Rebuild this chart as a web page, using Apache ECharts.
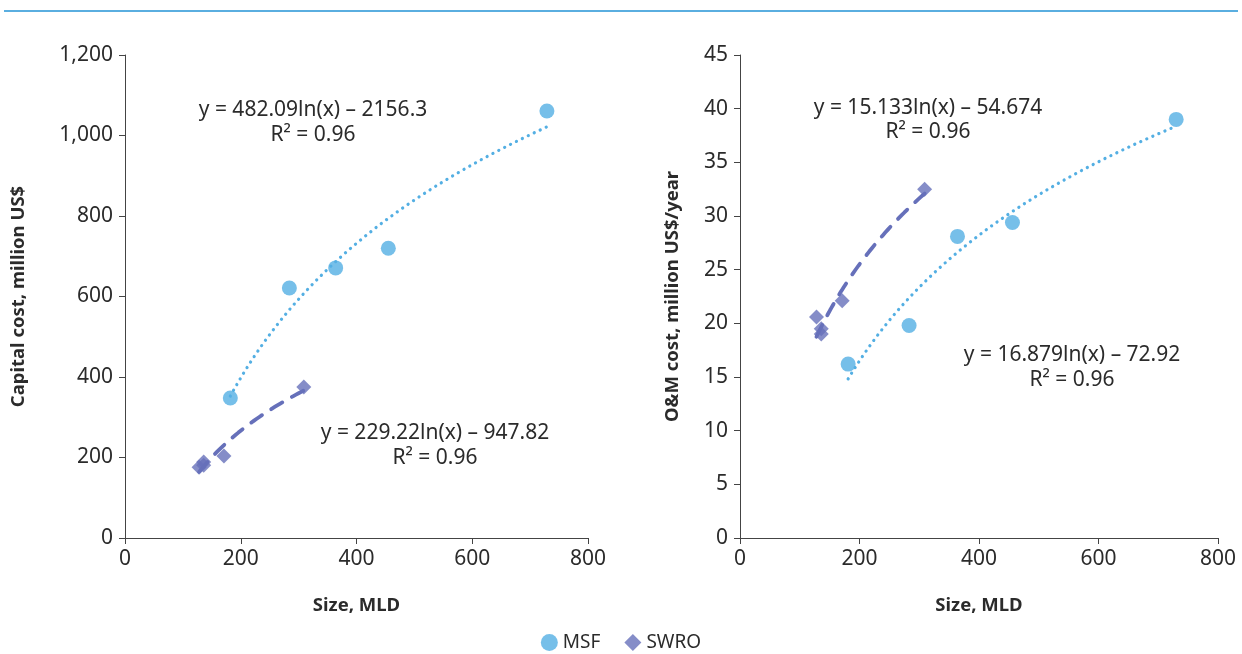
<!DOCTYPE html>
<html>
<head>
<meta charset="utf-8">
<script src="https://cdn.jsdelivr.net/npm/echarts@6/dist/echarts.min.js"></script>
<style>
html,body{margin:0;padding:0;background:#fff;}
#c{width:1242px;height:654px;}
</style>
</head>
<body>
<div id="c"></div>
<script>
// ---- data ----
var capMsfX = [182, 284, 364, 455, 729];
var capMsfY = [348, 621, 671, 720, 1061];
var capSwroX = [128, 136, 136, 171, 309];
var capSwroY = [176, 181, 189, 204, 375];

var omMsfX = [181, 283, 364, 456, 730];
var omMsfY = [16.2, 19.8, 28.1, 29.4, 39.0];
var omSwroX = [128, 136, 136, 171, 309];
var omSwroY = [20.6, 19.5, 19.0, 22.1, 32.5];

// trendline coefficients shown on the chart: y = a*ln(x) + b
var capMsfFit = [482.09, -2156.3];
var capSwroFit = [229.22, -947.82];
var omSwroFit = [15.133, -54.674];
var omMsfFit = [16.879, -72.92];
var r2Text = 'R\u00B2 = 0.96';

var xTicks = [0, 200, 400, 600, 800];
var capTicks = [0, 200, 400, 600, 800, 1000, 1200];
var omTicks = [0, 5, 10, 15, 20, 25, 30, 35, 40, 45];

var MSF_COLOR = '#54AFE3';
var SWRO_COLOR = '#6670BA';
var FONT = '"Noto Sans", "Open Sans", sans-serif';
var TXT = '#2b2b2b';

function pairs(xs, ys){ return xs.map(function(x,i){ return [x, ys[i]]; }); }
function trend(fit, xs){
  var lo = Math.min.apply(null, xs), hi = Math.max.apply(null, xs), out = [];
  var n = 80;
  for (var i = 0; i <= n; i++){
    var x = lo + (hi - lo) * i / n;
    out.push([x, fit[0] * Math.log(x) + fit[1]]);
  }
  return out;
}
function eqText(fit){
  return 'y = ' + fit[0] + 'ln(x) \u2013 ' + Math.abs(fit[1]);
}
function fmt(v){ return v.toLocaleString('en-US'); }

var axisLine = {show:true, lineStyle:{color:'#444', width:1}};
var axisTick = {show:true, length:6, lineStyle:{color:'#444'}};
var labelStyle = {color:TXT, fontSize:21, fontFamily:FONT};
var nameStyle = {color:TXT, fontSize:18.5, fontWeight:'bold', fontFamily:FONT};
var ANN_FONT = '21px ' + FONT;

function xAxis(idx){
  return {type:'value', gridIndex:idx, min:xTicks[0], max:xTicks[xTicks.length-1], interval:200,
    axisLine:axisLine, axisTick:axisTick, splitLine:{show:false},
    axisLabel:Object.assign({margin:11}, labelStyle, {formatter:function(v){return fmt(v);}}),
    name:'Size, MLD', nameLocation:'middle', nameGap:58, nameTextStyle:nameStyle};
}

var chart = echarts.init(document.getElementById('c'), null, {renderer:'canvas'});
var option = {
  animation:false,
  backgroundColor:'#fff',
  grid:[
    {left:125, top:55, width:463, height:483},
    {left:740, top:55, width:478, height:483}
  ],
  xAxis:[xAxis(0), xAxis(1)],
  yAxis:[
    {type:'value', gridIndex:0, min:capTicks[0], max:capTicks[capTicks.length-1], interval:200,
      axisLine:axisLine, axisTick:axisTick, splitLine:{show:false},
      axisLabel:Object.assign({margin:12}, labelStyle, {formatter:function(v){return fmt(v);}}),
      name:'Capital cost, million US$', nameLocation:'middle', nameRotate:90, nameGap:97, nameTextStyle:nameStyle},
    {type:'value', gridIndex:1, min:omTicks[0], max:omTicks[omTicks.length-1], interval:5,
      axisLine:axisLine, axisTick:axisTick, splitLine:{show:false},
      axisLabel:Object.assign({margin:12}, labelStyle),
      name:'O&M cost, million US$/year', nameLocation:'middle', nameRotate:90, nameGap:58, nameTextStyle:nameStyle}
  ],
  legend:{
    bottom:-3, left:'center', itemWidth:17, itemHeight:17, itemGap:24,
    textStyle:{color:TXT, fontSize:19, fontFamily:FONT},
    data:[{name:'MSF', icon:'circle'}, {name:'SWRO', icon:'diamond'}]
  },
  series:[
    {name:'MSF trend', type:'line', xAxisIndex:0, yAxisIndex:0, data:trend(capMsfFit, capMsfX), showSymbol:false, silent:true,
      lineStyle:{color:MSF_COLOR, width:3.2, type:[0.1, 6.5], cap:'round'}, z:1},
    {name:'SWRO trend', type:'line', xAxisIndex:0, yAxisIndex:0, data:trend(capSwroFit, capSwroX), showSymbol:false, silent:true,
      lineStyle:{color:SWRO_COLOR, width:3.8, type:[13, 11], cap:'round'}, z:1},
    {name:'MSF', type:'scatter', xAxisIndex:0, yAxisIndex:0, data:pairs(capMsfX, capMsfY), symbol:'circle', symbolSize:15,
      itemStyle:{color:MSF_COLOR}, z:3},
    {name:'SWRO', type:'scatter', xAxisIndex:0, yAxisIndex:0, data:pairs(capSwroX, capSwroY), symbol:'diamond', symbolSize:15,
      itemStyle:{color:SWRO_COLOR}, z:3},
    {name:'MSF trend 2', type:'line', xAxisIndex:1, yAxisIndex:1, data:trend(omMsfFit, omMsfX), showSymbol:false, silent:true,
      lineStyle:{color:MSF_COLOR, width:3.2, type:[0.1, 6.5], cap:'round'}, z:1},
    {name:'SWRO trend 2', type:'line', xAxisIndex:1, yAxisIndex:1, data:trend(omSwroFit, omSwroX), showSymbol:false, silent:true,
      lineStyle:{color:SWRO_COLOR, width:3.8, type:[13, 11], cap:'round'}, z:1},
    {name:'MSF', type:'scatter', xAxisIndex:1, yAxisIndex:1, data:pairs(omMsfX, omMsfY), symbol:'circle', symbolSize:15,
      itemStyle:{color:MSF_COLOR}, z:3},
    {name:'SWRO', type:'scatter', xAxisIndex:1, yAxisIndex:1, data:pairs(omSwroX, omSwroY), symbol:'diamond', symbolSize:15,
      itemStyle:{color:SWRO_COLOR}, z:3}
  ],
  graphic:[
    {type:'line', shape:{x1:4, y1:11, x2:1238, y2:11}, style:{stroke:'#5AAEE0', lineWidth:2}},
    {type:'text', x:313, y:110, style:{text:eqText(capMsfFit), textAlign:'center', textVerticalAlign:'middle', fill:TXT, font:ANN_FONT}},
    {type:'text', x:313, y:135, style:{text:r2Text, textAlign:'center', textVerticalAlign:'middle', fill:TXT, font:ANN_FONT}},
    {type:'text', x:435, y:433, style:{text:eqText(capSwroFit), textAlign:'center', textVerticalAlign:'middle', fill:TXT, font:ANN_FONT}},
    {type:'text', x:435, y:458, style:{text:r2Text, textAlign:'center', textVerticalAlign:'middle', fill:TXT, font:ANN_FONT}},
    {type:'text', x:928, y:108, style:{text:eqText(omSwroFit), textAlign:'center', textVerticalAlign:'middle', fill:TXT, font:ANN_FONT}},
    {type:'text', x:928, y:132, style:{text:r2Text, textAlign:'center', textVerticalAlign:'middle', fill:TXT, font:ANN_FONT}},
    {type:'text', x:1072, y:355, style:{text:eqText(omMsfFit), textAlign:'center', textVerticalAlign:'middle', fill:TXT, font:ANN_FONT}},
    {type:'text', x:1072, y:380, style:{text:r2Text, textAlign:'center', textVerticalAlign:'middle', fill:TXT, font:ANN_FONT}}
  ]
};
chart.setOption(option);
</script>
</body>
</html>
